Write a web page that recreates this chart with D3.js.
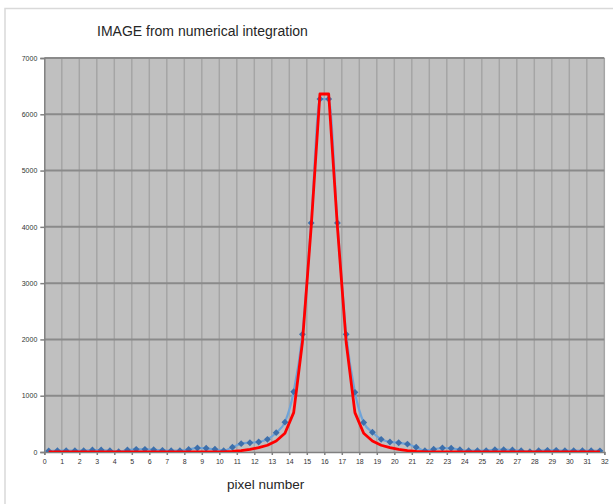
<!DOCTYPE html>
<html>
<head>
<meta charset="utf-8">
<script src="https://cdn.jsdelivr.net/npm/d3@7"></script>
<style>
  body { margin: 0; background: #fff; }
  text { font-family: "Liberation Sans", Arial, sans-serif; }
</style>
</head>
<body>
<div id="chart"></div>
<script>
var w = 613;
var h = 504;

// sub-pixel centres (half pixel steps)
var pixelPos = [0.25, 0.75, 1.25, 1.75, 2.25, 2.75, 3.25, 3.75, 4.25, 4.75, 5.25, 5.75, 6.25, 6.75, 7.25, 7.75,
  8.25, 8.75, 9.25, 9.75, 10.25, 10.75, 11.25, 11.75, 12.25, 12.75, 13.25, 13.75, 14.25, 14.75, 15.25, 15.75,
  16.25, 16.75, 17.25, 17.75, 18.25, 18.75, 19.25, 19.75, 20.25, 20.75, 21.25, 21.75, 22.25, 22.75, 23.25, 23.75,
  24.25, 24.75, 25.25, 25.75, 26.25, 26.75, 27.25, 27.75, 28.25, 28.75, 29.25, 29.75, 30.25, 30.75, 31.25, 31.75];

// blue series (with noise)
var imageValues = [18, 23, 23, 23, 23, 35, 35, 23, 5, 35, 47, 47, 41, 30, 23, 23,
  45, 72, 66, 48, 23, 85, 148, 165, 178, 225, 343, 530, 1070, 2090, 4070, 6270,
  6270, 4070, 2090, 1060, 525, 350, 225, 178, 165, 140, 85, 23, 48, 71, 66, 41,
  23, 23, 23, 41, 41, 36, 23, 5, 23, 30, 30, 23, 23, 23, 23, 20];

// red series (numerical integration)
var integValues = [0, 0, 0, 0, 0, 0, 0, 0, 0, 0, 0, 0, 0, 0, 0, 0,
  0, 0, 0, 0, 3, 10, 25, 47, 77, 120, 195, 332, 700, 1950, 4000, 6360,
  6360, 4000, 1950, 700, 332, 195, 120, 77, 47, 25, 10, 3, 0, 0, 0, 0,
  0, 0, 0, 0, 0, 0, 0, 0, 0, 0, 0, 0, 0, 0, 0, 0];

var xTicks = d3.range(0, 33);
var yTicks = [0, 1000, 2000, 3000, 4000, 5000, 6000, 7000];

var pLeft = 44.3, pRight = 604.3, pTop = 58, pBottom = 452;

var x = d3.scaleLinear().domain([0, 32]).range([pLeft, pRight]);
var y = d3.scaleLinear().domain([0, 7000]).range([pBottom, pTop]);

var svg = d3.select("#chart")
    .append("svg")
    .attr("width", w)
    .attr("height", h);

// outer frame
svg.append("path")
    .attr("d", "M5,504 V8.5 H613")
    .attr("fill", "none")
    .attr("stroke", "#d9d9d9")
    .attr("stroke-width", 1.5);

svg.append("text")
    .attr("x", 97)
    .attr("y", 36)
    .attr("font-size", 14)
    .attr("fill", "#262626")
    .text("IMAGE from numerical integration");

// plot area
svg.append("rect")
    .attr("x", pLeft)
    .attr("y", pTop)
    .attr("width", pRight - pLeft)
    .attr("height", pBottom - pTop)
    .attr("fill", "#c0c0c0");

svg.append("defs").append("clipPath")
    .attr("id", "plotclip")
    .append("rect")
    .attr("x", pLeft)
    .attr("y", pTop - 10)
    .attr("width", pRight - pLeft)
    .attr("height", pBottom - pTop + 10);

// vertical grid
svg.selectAll(".vgrid")
    .data(xTicks.slice(1))
    .enter()
    .append("line")
    .attr("class", "vgrid")
    .attr("x1", function(d) { return x(d); })
    .attr("x2", function(d) { return x(d); })
    .attr("y1", pTop)
    .attr("y2", pBottom)
    .attr("stroke", "#a5a5a5")
    .attr("stroke-width", 1.5);

// horizontal grid
svg.selectAll(".hgrid")
    .data(yTicks.slice(1))
    .enter()
    .append("line")
    .attr("class", "hgrid")
    .attr("x1", pLeft)
    .attr("x2", pRight)
    .attr("y1", function(d) { return y(d); })
    .attr("y2", function(d) { return y(d); })
    .attr("stroke", "#8a8a8a")
    .attr("stroke-width", 2);

// axes
var yAxis = svg.append("g")
    .attr("transform", "translate(" + pLeft + ",0)")
    .call(d3.axisLeft(y).tickValues(yTicks).tickFormat(d3.format("d")).tickSize(4).tickPadding(3));
yAxis.selectAll("text").attr("font-size", 7).attr("fill", "#333");

var xAxis = svg.append("g")
    .attr("transform", "translate(0," + pBottom + ")")
    .call(d3.axisBottom(x).tickValues(xTicks).tickSize(3).tickPadding(4));
xAxis.selectAll("text").attr("font-size", 7).attr("fill", "#333");

svg.selectAll(".domain, .tick line")
    .attr("stroke", "#808080")
    .attr("stroke-width", 1.5);

var series = svg.append("g").attr("clip-path", "url(#plotclip)");

var blueLine = d3.line()
    .x(function(d, i) { return x(pixelPos[i]); })
    .y(function(d) { return y(d); })
    .curve(d3.curveMonotoneX);

series.append("path")
    .datum(imageValues)
    .attr("d", blueLine)
    .attr("fill", "none")
    .attr("stroke", "#6fa3d8")
    .attr("stroke-width", 2.2);

series.selectAll(".pt")
    .data(imageValues)
    .enter()
    .append("path")
    .attr("class", "pt")
    .attr("d", d3.symbol().type(d3.symbolDiamond2).size(30))
    .attr("transform", function(d, i) {
        return "translate(" + x(pixelPos[i]) + "," + y(d) + ")";
    })
    .attr("fill", "#3d6fab");

var redLine = d3.line()
    .x(function(d, i) { return x(pixelPos[i]); })
    .y(function(d) { return y(d); });

series.append("path")
    .datum(integValues)
    .attr("d", redLine)
    .attr("fill", "none")
    .attr("stroke", "#ff0000")
    .attr("stroke-width", 2.8)
    .attr("stroke-linejoin", "round");

svg.append("text")
    .attr("x", 227)
    .attr("y", 489)
    .attr("font-size", 13.5)
    .attr("fill", "#262626")
    .text("pixel  number");
</script>
</body>
</html>
